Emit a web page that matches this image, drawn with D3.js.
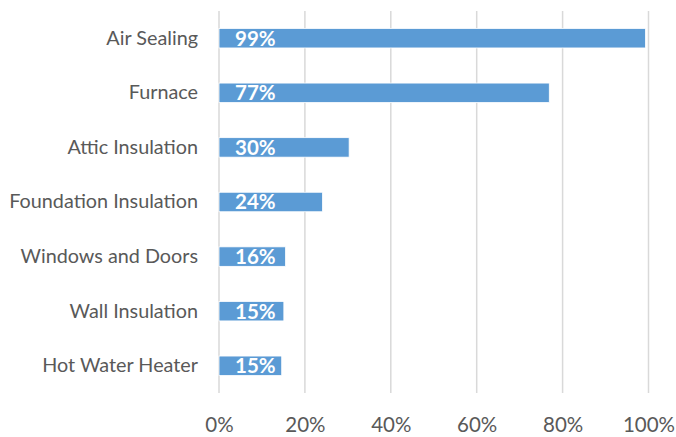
<!DOCTYPE html>
<html>
<head>
<meta charset="utf-8">
<script src="https://cdn.jsdelivr.net/npm/d3@7"></script>
<style>
  body { margin: 0; background: #fff; }
</style>
</head>
<body>
<div id="chart"></div>
<script>
const categories = ['Air Sealing', 'Furnace', 'Attic Insulation', 'Foundation Insulation',
    'Windows and Doors', 'Wall Insulation', 'Hot Water Heater'];
const values = [99.3, 76.9, 30.3, 24.1, 15.5, 15.1, 14.6];
const valueLabels = ['99%', '77%', '30%', '24%', '16%', '15%', '15%'];
const tickValues = [0, 20, 40, 60, 80, 100];

const width = 676;
const height = 437;
const margin = { top: 11, right: 28, bottom: 44, left: 219 };
const font = 'Lato, "Open Sans", sans-serif';

const svg = d3.select('#chart')
    .append('svg')
    .attr('width', width)
    .attr('height', height);

const x = d3.scaleLinear()
    .domain([0, 100])
    .range([margin.left, margin.left + 429.5]);

const y = d3.scaleBand()
    .domain(categories)
    .range([margin.top, height - margin.bottom])
    .paddingInner(0.643)
    .paddingOuter(0.32);

// gridlines
svg.append('g')
    .selectAll('line')
    .data(tickValues)
    .join('line')
    .attr('x1', d => x(d))
    .attr('x2', d => x(d))
    .attr('y1', margin.top)
    .attr('y2', height - margin.bottom)
    .attr('stroke', '#d9d9d9')
    .attr('stroke-width', 1.5);

// bars
svg.append('g')
    .selectAll('rect')
    .data(values)
    .join('rect')
    .attr('x', x(0))
    .attr('y', (d, i) => y(categories[i]))
    .attr('width', d => x(d) - x(0))
    .attr('height', y.bandwidth())
    .attr('fill', '#5b9bd5')
    .attr('stroke', '#ffffff')
    .attr('stroke-width', 0.8);

// value labels
svg.append('g')
    .selectAll('text')
    .data(valueLabels)
    .join('text')
    .attr('x', x(0) + 16)
    .attr('y', (d, i) => y(categories[i]) + y.bandwidth() / 2)
    .attr('dy', '0.36em')
    .attr('fill', '#fff')
    .attr('font-family', font)
    .attr('font-weight', 'bold')
    .attr('font-size', '20.5px')
    .text(d => d);

// category axis
const yAxis = svg.append('g')
    .attr('transform', `translate(${x(0) - 21},0)`)
    .call(d3.axisLeft(y).tickSize(0).tickPadding(0));
yAxis.select('.domain').remove();
yAxis.selectAll('text')
    .attr('fill', '#595959')
    .attr('font-family', font)
    .attr('font-size', '19.8px');

// value axis
const xAxis = svg.append('g')
    .attr('transform', `translate(0,${height - margin.bottom})`)
    .call(d3.axisBottom(x).tickValues(tickValues).tickFormat(d => d + '%').tickSize(0).tickPadding(24));
xAxis.select('.domain').remove();
xAxis.selectAll('text')
    .attr('fill', '#595959')
    .attr('font-family', font)
    .attr('font-size', '20.5px');
</script>
</body>
</html>
